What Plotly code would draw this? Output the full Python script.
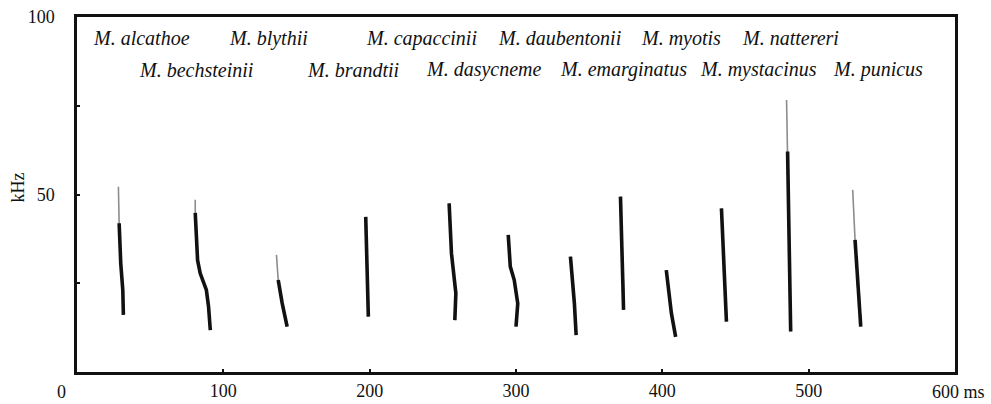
import plotly.graph_objects as go

# Species, in the order their calls appear along the time axis
species = [
    "M. alcathoe", "M. bechsteinii", "M. blythii", "M. brandtii",
    "M. capaccinii", "M. dasycneme", "M. daubentonii", "M. emarginatus",
    "M. myotis", "M. mystacinus", "M. nattereri", "M. punicus",
]

# Call contours: time (ms) and frequency (kHz), from call start (high) to end (low)
call_ms = [
    [28.3, 28.8, 29.9, 31.3, 31.7],
    [80.8, 80.8, 82.4, 84.2, 88.4, 89.9, 91.1],
    [136.3, 137.5, 140.2, 143.6],
    [197.3, 199.1],
    [254.3, 255.9, 258.9, 258.2],
    [294.7, 296.1, 298.8, 301.2, 300.0],
    [337.2, 339.9, 341.1],
    [371.4, 373.5, 373.5],
    [402.7, 406.2, 409.1],
    [440.4, 442.7, 443.8],
    [484.9, 485.6, 486.5, 487.7],
    [530.1, 531.7, 533.6, 535.6],
]
call_khz = [
    [52.2, 41.9, 30.6, 23.1, 16.1],
    [48.5, 44.8, 31.5, 27.8, 23.1, 18.4, 11.8],
    [33.0, 25.9, 19.4, 12.8],
    [43.7, 15.6],
    [47.5, 33.4, 22.2, 14.6],
    [38.6, 29.7, 25.9, 19.3, 12.8],
    [32.5, 19.3, 10.4],
    [49.4, 24.0, 17.5],
    [28.7, 16.5, 9.9],
    [46.1, 22.6, 14.2],
    [76.6, 62.1, 33.9, 11.4],
    [51.3, 37.2, 25.0, 12.8],
]
# Index of the first point of the strong (dark) part of each call
strong_from = [1, 1, 1, 0, 0, 0, 0, 0, 0, 0, 1, 1]

x_tick_vals = [100, 200, 300, 400, 500]
x_tick_text = ["100", "200", "300", "400", "500"]
y_tick_vals = [0, 25, 50, 75, 100]
y_tick_text = ["", "", "50", "", "100"]

# Name labels: two staggered rows across the top of the panel
label_ms = [43.8, 81.5, 130.8, 188.4, 235.6, 278.0, 329.5, 373.3, 413.0, 465.8, 487.7, 547.3]
label_row_khz = [94.0, 85.2]

SERIF = "Liberation Serif, Times New Roman, serif"

fig = go.Figure()

for ms, khz, k in zip(call_ms, call_khz, strong_from):
    # faint full contour
    fig.add_trace(go.Scatter(
        x=ms, y=khz, mode="lines",
        line=dict(color="#8c8c8c", width=1.6),
        hoverinfo="skip", showlegend=False,
    ))
    # strong part of the call
    fig.add_trace(go.Scatter(
        x=ms[k:], y=khz[k:], mode="lines",
        line=dict(color="#111111", width=3.6),
        hoverinfo="skip", showlegend=False,
    ))

for i, (name, xm) in enumerate(zip(species, label_ms)):
    fig.add_annotation(
        x=xm, y=label_row_khz[i % 2], xref="x", yref="y",
        text=f"<i>{name}</i>", showarrow=False,
        xanchor="center", yanchor="middle",
        font=dict(family=SERIF, size=20, color="#111111"),
    )

# origin label, unit label and axis title
fig.add_annotation(
    x=0, y=0, xref="x", yref="y", text="0", showarrow=False,
    xanchor="center", yanchor="top", xshift=-16, yshift=-8,
    font=dict(family=SERIF, size=18, color="#111111"),
)
fig.add_annotation(
    x=600, y=0, xref="x", yref="y", text="600 ms", showarrow=False,
    xanchor="left", yanchor="top", xshift=-25, yshift=-8,
    font=dict(family=SERIF, size=18, color="#111111"),
)
fig.add_annotation(
    x=0, y=52, xref="paper", yref="y", text="kHz", showarrow=False,
    textangle=-90, xanchor="center", yanchor="middle", xshift=-59,
    font=dict(family=SERIF, size=18, color="#111111"),
)

fig.update_xaxes(
    range=[0, 600], tickvals=x_tick_vals, ticktext=x_tick_text,
    ticks="inside", ticklen=3, tickwidth=1.5, tickcolor="#111111",
    showline=True, linecolor="#111111", linewidth=2.5, mirror=True,
    showgrid=False, zeroline=False, ticklabelstandoff=1, automargin=False,
    tickfont=dict(family=SERIF, size=18, color="#111111"),
)
fig.update_yaxes(
    range=[0, 100], tickvals=y_tick_vals, ticktext=y_tick_text,
    ticks="inside", ticklen=3, tickwidth=1.5, tickcolor="#111111",
    showline=True, linecolor="#111111", linewidth=2.5, mirror=True,
    showgrid=False, zeroline=False, ticklabelstandoff=16, automargin=False,
    tickfont=dict(family=SERIF, size=18, color="#111111"),
)

fig.update_layout(
    width=991, height=404,
    margin=dict(l=77, r=36, t=17, b=32),
    paper_bgcolor="white", plot_bgcolor="white",
    showlegend=False,
)

fig.write_html("out.html")
